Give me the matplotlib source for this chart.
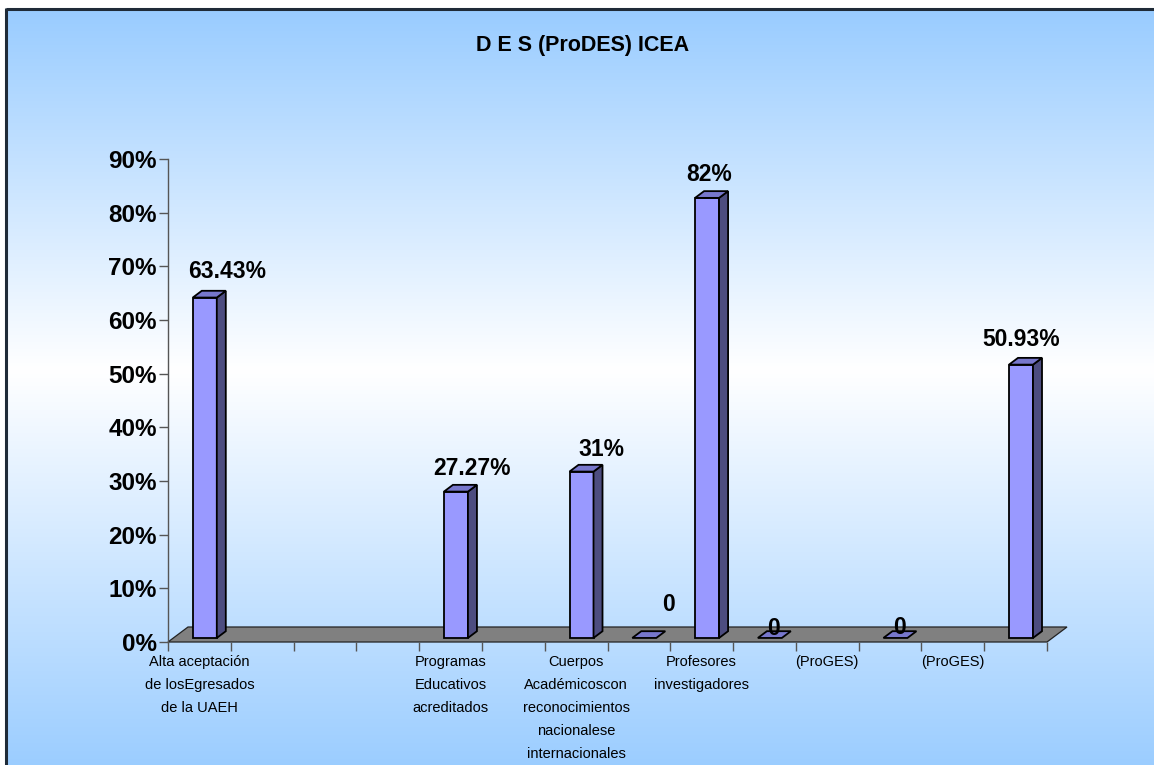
import numpy as np
import matplotlib
matplotlib.use("Agg")
import matplotlib.pyplot as plt
from matplotlib.patches import Polygon

plt.rcParams["font.family"] = ["Liberation Sans", "DejaVu Sans"]

# ---------------- data ----------------
title = "D E S (ProDES) ICEA"
categories = [
    "Alta aceptación\nde losEgresados\nde la UAEH", "", "", "",
    "Programas\nEducativos\nacreditados", "",
    "Cuerpos\nAcadémicoscon\nreconocimientos\nnacionalese\ninternacionales", "",
    "Profesores\ninvestigadores", "", "(ProGES)", "", "(ProGES)", "",
]
values = [63.43, np.nan, np.nan, np.nan, 27.27, np.nan, 31, 0, 82, 0, np.nan, 0, np.nan, 50.93]
yticks = [0, 10, 20, 30, 40, 50, 60, 70, 80, 90]
ytick_labels = ["0%", "10%", "20%", "30%", "40%", "50%", "60%", "70%", "80%", "90%"]

# label offsets (pixels, right/up) per category, style only
label_offsets = {0: (22, 26), 4: (16, 23), 6: (20, 22), 7: (24, 33),
                 8: (2, 23), 9: (4, 9), 11: (4, 10), 13: (0, 25)}

def fmt(v):
    return "0" if v == 0 else f"{v:g}%"

# ---------------- figure ----------------
W, H = 1154, 765
fig = plt.figure(figsize=(W / 100, H / 100), dpi=100)
fig.patch.set_facecolor("white")

bg = fig.add_axes([0, 0, 1, 1])
bg.set_xlim(0, W)
bg.set_ylim(H, 0)
bg.axis("off")

# vertical gradient: blue -> white -> blue
top_y, mid_y, bot_y = 9, 370, 775
ys = np.arange(top_y, H + 1)
blue = np.array([0x99, 0xCC, 0xFF]) / 255.0
white = np.ones(3)
t = np.where(ys <= mid_y, (ys - top_y) / (mid_y - top_y), (bot_y - ys) / (bot_y - mid_y))
t = np.clip(t, 0, 1)[:, None]
cols = blue * (1 - t) + white * t
img = np.repeat(cols[:, None, :], 2, axis=1)
bg.imshow(img, extent=(6, W + 1, H, top_y), aspect="auto", interpolation="bilinear", zorder=0)
bg.plot([6, W + 2], [top_y, top_y], color="#1f2b38", lw=2.2, zorder=1, solid_capstyle="butt")
bg.plot([6, 6], [top_y - 1, H + 2], color="#1f2b38", lw=2.2, zorder=1, solid_capstyle="butt")
bg.text(583, 45, title, ha="center", va="center", fontsize=15.5, fontweight="bold", color="black")

# main axes
x0px, x1px, y0px, y1px = 168, 1047, 642, 159
ax = fig.add_axes([x0px / W, 1 - y0px / H, (x1px - x0px) / W, (y0px - y1px) / H])
ax.patch.set_alpha(0)
n = len(categories)
ax.set_xlim(0, n)
ax.set_ylim(0, 90)

pxx = (x1px - x0px) / n
pxy = (y0px - y1px) / 90.0
Dx, Dy = 20 / pxx, 15 / pxy  # floor depth vector in data units

floor = Polygon([(0, 0), (n, 0), (n + Dx, Dy), (Dx, Dy)], closed=True,
                facecolor="#808080", edgecolor="#222222", lw=0.9, clip_on=False, zorder=1)
ax.add_patch(floor)

f0, f1 = 0.27, 0.72
w = 24 / pxx
ddx, ddy = (f1 - f0) * Dx, (f1 - f0) * Dy
front_c, side_c, top_c = "#9999FF", "#4D4D80", "#7777CC"
ec, elw = "black", 1.3

for i, v in enumerate(values):
    if np.isnan(v):
        continue
    xl = i + 0.5 - w / 2 + f0 * Dx
    yb = f0 * Dy
    yt = yb + v
    if v > 0:
        ax.add_patch(Polygon([(xl, yb), (xl + w, yb), (xl + w, yt), (xl, yt)], closed=True,
                             facecolor=front_c, edgecolor=ec, lw=elw, clip_on=False, zorder=3,
                             joinstyle="miter"))
        ax.add_patch(Polygon([(xl + w, yb), (xl + w + ddx, yb + ddy), (xl + w + ddx, yt + ddy), (xl + w, yt)],
                             closed=True, facecolor=side_c, edgecolor=ec, lw=elw, clip_on=False, zorder=3,
                             joinstyle="miter"))
    ax.add_patch(Polygon([(xl, yt), (xl + w, yt), (xl + w + ddx, yt + ddy), (xl + ddx, yt + ddy)],
                         closed=True, facecolor=top_c, edgecolor=ec, lw=elw, clip_on=False, zorder=3,
                         joinstyle="miter"))
    ox, oy = label_offsets.get(i, (0, 24))
    ax.annotate(fmt(v), xy=(xl + w / 2, yt), xytext=(ox * 0.72, oy * 0.72),
                textcoords="offset points", ha="center", va="center",
                fontsize=16.5, fontweight="bold", color="black", zorder=5, annotation_clip=False)

# axes styling
for s in ("top", "right", "bottom"):
    ax.spines[s].set_visible(False)
ax.spines["left"].set_color("#555555")
ax.spines["left"].set_linewidth(1.0)
ax.set_yticks(yticks)
ax.set_yticklabels(ytick_labels, fontsize=17.5, fontweight="bold")
ax.tick_params(axis="y", direction="out", length=6.5, width=1, color="#555555", pad=1.5)

ax.set_xticks(np.arange(n + 1))
ax.set_xticklabels([])
ax.tick_params(axis="x", which="major", direction="out", length=6.5, width=1, color="#555555")
ax.set_xticks(np.arange(n) + 0.5, minor=True)
ax.set_xticklabels(categories, minor=True, fontsize=10.5, linespacing=1.82)
ax.tick_params(axis="x", which="minor", length=0, pad=9.5)

fig.savefig("out.png", dpi=100)
